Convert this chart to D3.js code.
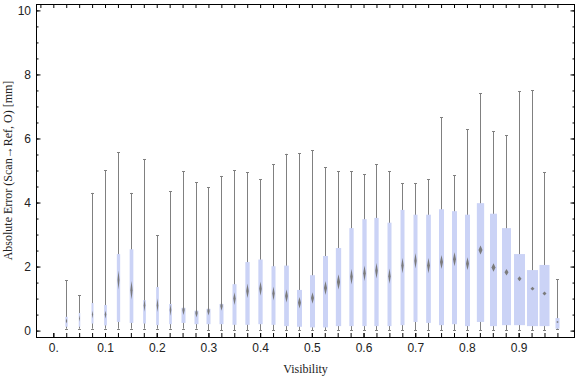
<!DOCTYPE html>
<html>
<head>
<meta charset="utf-8">
<script src="https://cdn.jsdelivr.net/npm/d3@7"></script>
<style>
  html, body { margin: 0; padding: 0; background: #fff; }
  svg { display: block; font-family: "Liberation Serif", "Times New Roman", serif; }
  .tick line { stroke: #000; }
  .tick text { fill: #222; font-size: 12px; }
</style>
</head>
<body>
<div class="box-chart"></div>
<script>
// bin centres (visibility)
const visibility = [0.025, 0.05, 0.075, 0.1, 0.125, 0.15, 0.175, 0.2, 0.225, 0.25,
    0.275, 0.3, 0.325, 0.35, 0.375, 0.4, 0.425, 0.45, 0.475, 0.5,
    0.525, 0.55, 0.575, 0.6, 0.625, 0.65, 0.675, 0.7, 0.725, 0.75,
    0.775, 0.8, 0.825, 0.85, 0.875, 0.9, 0.925, 0.95, 0.975];

// whisker ends, quartiles and medians [mm]
const lows = [0.06, 0.06, 0.06, 0.06, 0.06, 0.06, 0.06, 0.06, 0.06, 0.06,
    0.06, 0.01, 0.01, 0.01, 0.01, 0.01, 0.01, 0.01, 0.01, 0.01,
    0.01, 0.01, 0.01, 0.01, 0.01, 0.01, 0.01, 0.01, 0.01, 0.01,
    0.01, 0.01, 0.01, 0.01, 0.01, 0.01, 0.01, 0.01, 0.04];
const highs = [1.57, 1.11, 4.30, 5.00, 5.57, 4.30, 5.36, 2.98, 4.36, 4.98,
    4.64, 4.47, 4.83, 5.00, 4.95, 4.72, 5.19, 5.52, 5.54, 5.63,
    5.10, 4.97, 4.97, 4.88, 5.19, 4.97, 4.60, 4.60, 4.72, 6.66,
    4.85, 6.29, 7.41, 6.22, 6.10, 7.47, 7.50, 4.94, 1.61];
const q1 = [0.12, 0.12, 0.22, 0.16, 0.27, 0.24, 0.22, 0.17, 0.20, 0.24,
    0.20, 0.20, 0.20, 0.18, 0.18, 0.20, 0.18, 0.14, 0.12, 0.10,
    0.10, 0.14, 0.14, 0.14, 0.14, 0.14, 0.17, 0.27, 0.24, 0.17,
    0.20, 0.14, 0.27, 0.14, 0.17, 0.17, 0.14, 0.14, 0.06];
const q3 = [0.43, 0.55, 0.86, 0.80, 2.39, 2.54, 0.95, 1.36, 0.83, 0.71,
    0.62, 0.68, 0.83, 1.45, 2.14, 2.22, 2.01, 2.03, 1.27, 1.73,
    2.33, 2.58, 3.20, 3.48, 3.52, 3.37, 3.77, 3.62, 3.62, 3.79,
    3.73, 3.62, 3.98, 3.65, 3.20, 2.39, 1.89, 2.05, 0.39];
const medians = [0.30, 0.38, 0.50, 0.50, 1.58, 1.26, 0.79, 0.79, 0.64, 0.64,
    0.55, 0.61, 0.77, 1.00, 1.24, 1.31, 1.16, 1.08, 0.87, 1.02,
    1.33, 1.52, 1.68, 1.79, 1.87, 1.70, 2.03, 2.18, 2.03, 2.14,
    2.23, 2.09, 2.52, 1.97, 1.82, 1.62, 1.31, 1.16, 0.27];
// half width of the median confidence interval (diamond)
const medianCI = [0.08, 0.10, 0.12, 0.12, 0.30, 0.30, 0.20, 0.22, 0.18, 0.15,
    0.14, 0.14, 0.15, 0.20, 0.22, 0.22, 0.22, 0.20, 0.18, 0.18,
    0.22, 0.24, 0.24, 0.24, 0.24, 0.24, 0.24, 0.24, 0.24, 0.22,
    0.22, 0.20, 0.14, 0.13, 0.10, 0.08, 0.06, 0.06, 0.03];
// sample counts (box width)
const counts = [53, 22, 40, 73, 109, 137, 73, 73, 73, 160,
    160, 160, 160, 160, 185, 185, 160, 221, 250, 250,
    250, 281, 185, 185, 185, 160, 160, 160, 221, 250,
    250, 250, 533, 490, 810, 1210, 1210, 1000, 160];

const xMajor = [0, 0.1, 0.2, 0.3, 0.4, 0.5, 0.6, 0.7, 0.8, 0.9];
const yMajor = [0, 2, 4, 6, 8, 10];
const yMinor = [0, 0.5, 1, 1.5, 2, 2.5, 3, 3.5, 4, 4.5, 5, 5.5, 6, 6.5, 7, 7.5, 8, 8.5, 9, 9.5, 10];

const chartWidth = 576, chartHeight = 377;
const plotLeft = 36, plotRight = 575, plotTop = 4, plotBottom = 337;

const data = visibility.map((v, i) => ({
    v, low: lows[i], high: highs[i], q1: q1[i], q3: q3[i],
    med: medians[i], ci: medianCI[i], n: counts[i]
}));

const svg = d3.select('.box-chart').append('svg')
    .attr('width', chartWidth)
    .attr('height', chartHeight);

const x = d3.scaleLinear().domain([-0.0335, 1.009]).range([plotLeft, plotRight]);
const y = d3.scaleLinear().domain([-0.2, 10.2]).range([plotBottom, plotTop]);
const w = d3.scaleSqrt().domain([0, 1210]).range([0, 11]);

// boxes
const box = svg.append('g').selectAll('g')
    .data(data)
    .join('g')
    .attr('transform', d => `translate(${Math.round(x(d.v)) + 0.5},0)`);

box.append('line') // whisker
    .attr('y1', d => y(d.low))
    .attr('y2', d => y(d.high))
    .attr('stroke', '#808080')
    .attr('stroke-width', 1);

box.selectAll('.cap')
    .data(d => [d.low, d.high])
    .join('line')
    .attr('class', 'cap')
    .attr('x1', -1.5).attr('x2', 1.5)
    .attr('y1', d => Math.round(y(d)) + 0.5)
    .attr('y2', d => Math.round(y(d)) + 0.5)
    .attr('stroke', '#808080')
    .attr('stroke-width', 1);

box.append('rect')
    .attr('x', d => -w(d.n) / 2)
    .attr('width', d => w(d.n))
    .attr('y', d => y(d.q3))
    .attr('height', d => y(d.q1) - y(d.q3))
    .attr('fill', '#cbd3f6');

box.append('path') // median diamond
    .attr('d', d => {
        const hw = Math.min(2, w(d.n) * 0.3);
        const m = y(d.med), t = y(d.med + d.ci), b = y(d.med - d.ci);
        return `M0,${t}L${hw},${m}L0,${b}L${-hw},${m}Z`;
    })
    .attr('fill', '#7b7b7b');

// axes, ticks pointing inward
const clean = g => g.call(g => g.select('.domain').remove());

svg.append('g')
    .attr('transform', `translate(0,${plotBottom})`)
    .call(d3.axisBottom(x).tickValues([0].concat(visibility)).tickSize(-4).tickFormat(''))
    .call(clean);
svg.append('g')
    .attr('transform', `translate(0,${plotBottom})`)
    .call(d3.axisBottom(x).tickValues(xMajor).tickSize(-4).tickPadding(6)
        .tickFormat(d => d === 0 ? '0.' : d3.format('.1f')(d)))
    .call(clean);
svg.append('g')
    .attr('transform', `translate(0,${plotTop})`)
    .call(d3.axisTop(x).tickValues([-0.025, 0].concat(visibility)).tickSize(-4).tickFormat(''))
    .call(clean);

svg.append('g')
    .attr('transform', `translate(${plotLeft},0)`)
    .call(d3.axisLeft(y).tickValues(yMinor).tickSize(-2.5).tickFormat(''))
    .call(clean);
svg.append('g')
    .attr('transform', `translate(${plotLeft},0)`)
    .call(d3.axisLeft(y).tickValues(yMajor).tickSize(-4.5).tickPadding(5))
    .call(clean);
svg.append('g')
    .attr('transform', `translate(${plotRight},0)`)
    .call(d3.axisRight(y).tickValues(yMinor).tickSize(-2.5).tickFormat(''))
    .call(clean);
svg.append('g')
    .attr('transform', `translate(${plotRight},0)`)
    .call(d3.axisRight(y).tickValues(yMajor).tickSize(-4.5).tickFormat(''))
    .call(clean);

svg.selectAll('.tick text').attr('font-family', null).attr('font-size', null);

// frame
svg.append('rect')
    .attr('x', plotLeft + 0.5).attr('y', plotTop + 0.5)
    .attr('width', plotRight - plotLeft - 1).attr('height', plotBottom - plotTop)
    .attr('fill', 'none')
    .attr('stroke', '#000')
    .attr('stroke-width', 1);

// titles
svg.append('text')
    .attr('x', (plotLeft + plotRight) / 2)
    .attr('y', 373)
    .attr('text-anchor', 'middle')
    .attr('font-size', 12)
    .attr('fill', '#222')
    .text('Visibility');

svg.append('text')
    .attr('transform', `translate(11.5,${(plotTop + plotBottom) / 2}) rotate(-90)`)
    .attr('text-anchor', 'middle')
    .attr('font-size', 12)
    .attr('fill', '#222')
    .text('Absolute Error (Scan\u2192Ref, O) [mm]');
</script>
</body>
</html>
